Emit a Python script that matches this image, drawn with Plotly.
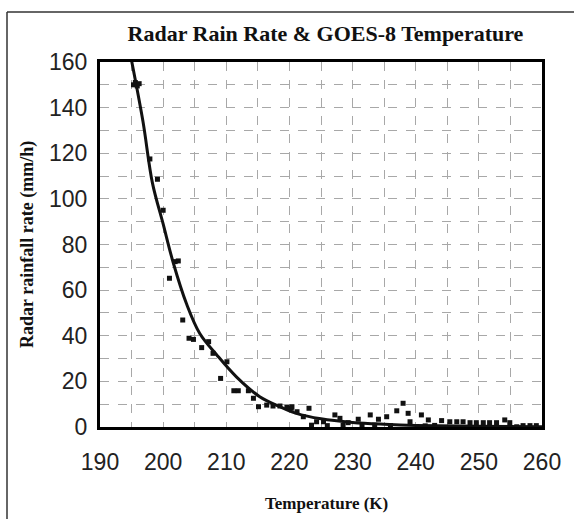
import plotly.graph_objects as go

# Observed data points (Temperature K, radar rain rate mm/h)
obs_T = [195.3, 195.6, 195.9, 196.2, 197.9, 199.1, 200.0, 201.0, 201.9, 202.4,
         203.1, 204.1, 204.8, 206.1, 207.2, 207.9, 209.1, 210.1, 211.2, 211.9,
         213.5, 214.3, 215.1, 216.4, 217.4, 218.5, 219.6, 220.3, 220.4, 221.2,
         222.2, 223.1, 224.3, 225.4, 227.2, 228.0, 229.3, 230.9, 232.8, 234.1,
         235.4, 237.0, 238.0, 238.8, 239.1, 240.9, 242.0, 244.1, 245.4, 246.5,
         247.5, 248.6, 249.6, 250.7, 251.7, 252.8, 254.1, 254.9, 256.0, 257.0,
         258.1, 259.1, 223.5, 226.0, 228.5, 231.5, 233.5, 236.0, 241.5, 243.0]
obs_R = [150.0, 151.0, 149.5, 150.5, 117.5, 108.6, 95.0, 65.2, 72.5, 72.8,
         46.9, 38.9, 38.4, 34.8, 37.4, 32.3, 21.3, 28.6, 15.9, 15.9,
         15.9, 12.6, 8.9, 9.6, 9.2, 9.2, 8.6, 8.2, 8.9, 6.7,
         4.5, 8.2, 2.3, 2.3, 5.3, 3.8, 1.9, 3.4, 5.3, 3.4,
         4.5, 7.1, 10.4, 6.0, 2.3, 5.3, 3.1, 2.8, 2.3, 2.3,
         2.3, 1.9, 1.9, 1.9, 1.9, 1.9, 3.1, 1.9, 0.1, 0.6,
         0.6, 0.6, 0.8, 0.6, 0.7, 0.5, 0.8, 0.6, 0.5, 0.7]

# Fitted curve
fit_T = [194.9, 196.8, 198.3, 200.0, 201.6, 203.7, 205.8, 208.5, 211.6, 215.3,
         218.5, 221.1, 225.0, 230.0, 235.0, 240.0, 250.0, 260.0]
fit_R = [162.0, 134.0, 107.0, 89.0, 72.0, 54.0, 41.0, 31.6, 22.0, 13.3,
         8.9, 6.0, 3.6, 2.0, 1.2, 0.7, 0.3, 0.1]

x_ticks = [190, 200, 210, 220, 230, 240, 250, 260]
y_ticks = [0, 20, 40, 60, 80, 100, 120, 140, 160]

fig = go.Figure()
fig.add_trace(go.Scatter(x=fit_T, y=fit_R, mode="lines", line=dict(color="#111", width=3, shape="spline"),
                         hoverinfo="skip", showlegend=False))
fig.add_trace(go.Scatter(x=obs_T, y=obs_R, mode="markers",
                         marker=dict(symbol="square", size=5, color="#111"), showlegend=False))

tickfont = dict(family="Liberation Sans, Arial, sans-serif", size=23, color="#222")
serif = "Liberation Serif, Times New Roman, serif"

PL, PR, PT, PB = 100, 542, 62, 427  # plot area in pixels
pw, ph = PR - PL, PB - PT

fig.update_layout(
    width=574, height=519,
    margin=dict(l=PL, r=574 - PR, t=PT, b=519 - PB),
    paper_bgcolor="white", plot_bgcolor="white",
    title=dict(text="<b>Radar Rain Rate &amp; GOES-8 Temperature</b>", x=0.567, xanchor="center",
               y=1 - 33 / 519, yanchor="middle", font=dict(family=serif, size=22, color="#111")),
    xaxis=dict(range=[190, 260], tickvals=x_ticks, ticktext=[str(v) for v in x_ticks],
               showgrid=True, gridcolor="#a8a8a8", griddash="dash", gridwidth=1,
               minor=dict(dtick=5, showgrid=True, gridcolor="#a8a8a8", griddash="dash"),
               showline=True, linecolor="black", linewidth=3, mirror=True, automargin=False,
               ticks="", tickfont=tickfont, ticklabelstandoff=12, zeroline=False),
    yaxis=dict(range=[0, 160], tickvals=y_ticks, ticktext=[str(v) for v in y_ticks],
               showgrid=True, gridcolor="#a8a8a8", griddash="dash", gridwidth=1,
               minor=dict(dtick=10, showgrid=True, gridcolor="#a8a8a8", griddash="dash"),
               showline=True, linecolor="black", linewidth=3, mirror=True, automargin=False,
               ticks="", tickfont=tickfont, ticklabelstandoff=5, zeroline=False),
    annotations=[
        dict(text="<b>Temperature (K)</b>", xref="paper", yref="paper",
             x=(326 - PL) / pw, y=(PB - 503) / ph, xanchor="center", yanchor="middle",
             showarrow=False, font=dict(family=serif, size=17, color="#111")),
        dict(text="<b>Radar rainfall rate (mm/h)</b>", xref="paper", yref="paper",
             x=(27 - PL) / pw, y=(PB - 245) / ph, xanchor="center", yanchor="middle", textangle=-90,
             showarrow=False, font=dict(family=serif, size=18, color="#111")),
    ],
    shapes=[
        dict(type="line", xref="paper", yref="paper", x0=(7 - PL) / pw, x1=1.2,
             y0=(PB - 12) / ph, y1=(PB - 12) / ph, line=dict(color="#333", width=1.5)),
        dict(type="line", xref="paper", yref="paper", x0=(7 - PL) / pw, x1=(7 - PL) / pw,
             y0=(PB - 12) / ph, y1=-0.4, line=dict(color="#333", width=1.5)),
    ],
)

fig.write_html("out.html")
